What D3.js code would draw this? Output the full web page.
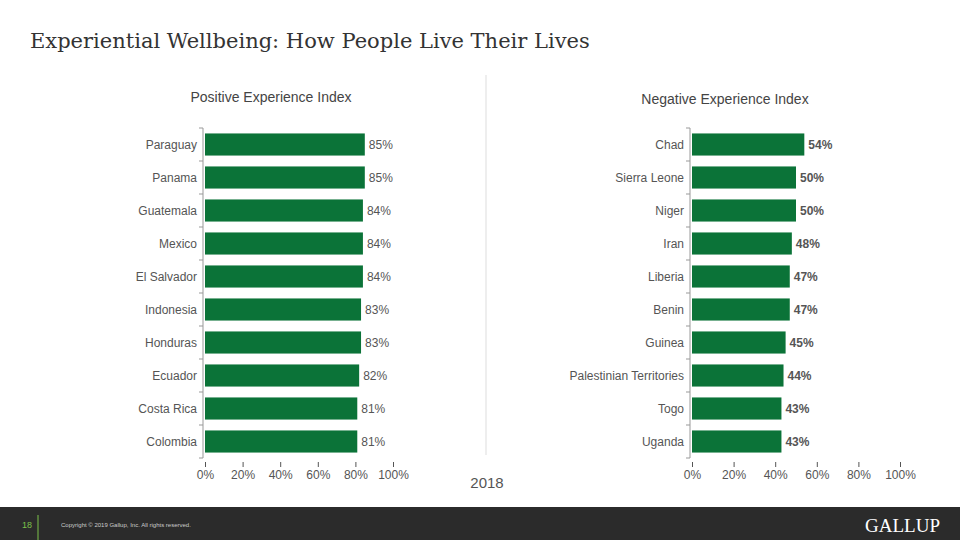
<!DOCTYPE html>
<meta charset="utf-8">
<style>
body { margin: 0; background: #fff; }
text { font-family: "Liberation Sans", Arial, sans-serif; }
</style>
<body>
<script src="https://cdn.jsdelivr.net/npm/d3@7"></script>
<script>

var posCountries = ["Paraguay", "Panama", "Guatemala", "Mexico", "El Salvador", "Indonesia", "Honduras", "Ecuador", "Costa Rica", "Colombia"],
    posValues = [85, 85, 84, 84, 84, 83, 83, 82, 81, 81];
var negCountries = ["Chad", "Sierra Leone", "Niger", "Iran", "Liberia", "Benin", "Guinea", "Palestinian Territories", "Togo", "Uganda"],
    negValues = [54, 50, 50, 48, 47, 47, 45, 44, 43, 43];
var tickValues = [0, 20, 40, 60, 80, 100];

var width = 960, height = 540, green = "#0b7338";

var svg = d3.select("body").append("svg")
    .attr("width", width)
    .attr("height", height);

svg.append("text")
    .attr("x", 30).attr("y", 48)
    .style("font-family", "'DejaVu Serif', 'Liberation Serif', serif")
    .style("font-size", "21px").attr("fill", "#333")
    .text("Experiential Wellbeing: How People Live Their Lives");

// divider
svg.append("line").attr("x1", 486).attr("x2", 486).attr("y1", 75).attr("y2", 455)
    .attr("stroke", "#ddd");
svg.append("text").attr("x", 487).attr("y", 488).attr("text-anchor", "middle")
    .style("font-size", "15px").attr("fill", "#555").text("2018");

function panel(title, tx, ty, countries, values, x0, x1, bold) {
  var x = d3.scaleLinear().domain([0, 100]).range([x0, x1]);
  var y = d3.scaleBand().domain(countries).range([128, 458]).paddingInner(0.33).paddingOuter(0.165);
  var g = svg.append("g");

  g.append("text").attr("x", tx).attr("y", ty).attr("text-anchor", "middle")
      .style("font-size", "14px").attr("fill", "#444").text(title);

  g.selectAll("rect.bar").data(values).enter().append("rect")
      .attr("x", x(0)).attr("y", function(d, i) { return y(countries[i]); })
      .attr("width", function(d) { return x(d) - x(0); })
      .attr("height", y.bandwidth()).attr("fill", green);

  g.selectAll("text.val").data(values).enter().append("text")
      .attr("x", function(d) { return x(d) + 4; })
      .attr("y", function(d, i) { return y(countries[i]) + y.bandwidth() / 2 + 4; })
      .style("font-size", "12px").style("font-weight", bold ? "bold" : "normal")
      .attr("fill", "#555").text(function(d) { return d + "%"; });

  g.selectAll("text.cat").data(countries).enter().append("text")
      .attr("x", x(0) - 8).attr("y", function(d) { return y(d) + y.bandwidth() / 2 + 4; })
      .attr("text-anchor", "end").style("font-size", "12px").attr("fill", "#555")
      .text(function(d) { return d; });

  // category axis with tick marks between bands
  var ax = g.append("g").attr("stroke", "#999");
  ax.append("line").attr("x1", x(0) - 2).attr("x2", x(0) - 2).attr("y1", 128).attr("y2", 458);
  var step = y.step();
  d3.range(countries.length + 1).forEach(function(i) {
    var yy = 128 + i * step;
    ax.append("line").attr("x1", x(0) - 6).attr("x2", x(0) - 2).attr("y1", yy).attr("y2", yy);
  });

  var xa = g.append("g").attr("transform", "translate(0,462)")
      .call(d3.axisBottom(x).tickValues(tickValues).tickSize(5).tickFormat(function(d) { return d + "%"; }));
  xa.select(".domain").remove();
  xa.selectAll("line").attr("stroke", "#555");
  xa.selectAll("text").style("font-size", "12px").attr("fill", "#555")
      .style("font-family", "'Liberation Sans', Arial, sans-serif");
}

panel("Positive Experience Index", 271, 102, posCountries, posValues, 205, 393, false);
panel("Negative Experience Index", 725, 104, negCountries, negValues, 692, 900, true);

// footer
svg.append("rect").attr("x", 0).attr("y", 507).attr("width", width).attr("height", 33).attr("fill", "#2b2b2b");
svg.append("text").attr("x", 22).attr("y", 528).style("font-size", "9px").attr("fill", "#7cc24a").text("18");
svg.append("line").attr("x1", 38).attr("x2", 38).attr("y1", 515).attr("y2", 540).attr("stroke", "#7cc24a");
svg.append("text").attr("x", 61).attr("y", 527).style("font-size", "6px").attr("fill", "#ccc")
    .text("Copyright © 2019 Gallup, Inc. All rights reserved.");
svg.append("text").attr("x", 940).attr("y", 532).attr("text-anchor", "end")
    .style("font-family", "'Liberation Serif', serif").style("font-size", "19px").attr("fill", "#fff")
    .text("GALLUP");
</script>
</body>
